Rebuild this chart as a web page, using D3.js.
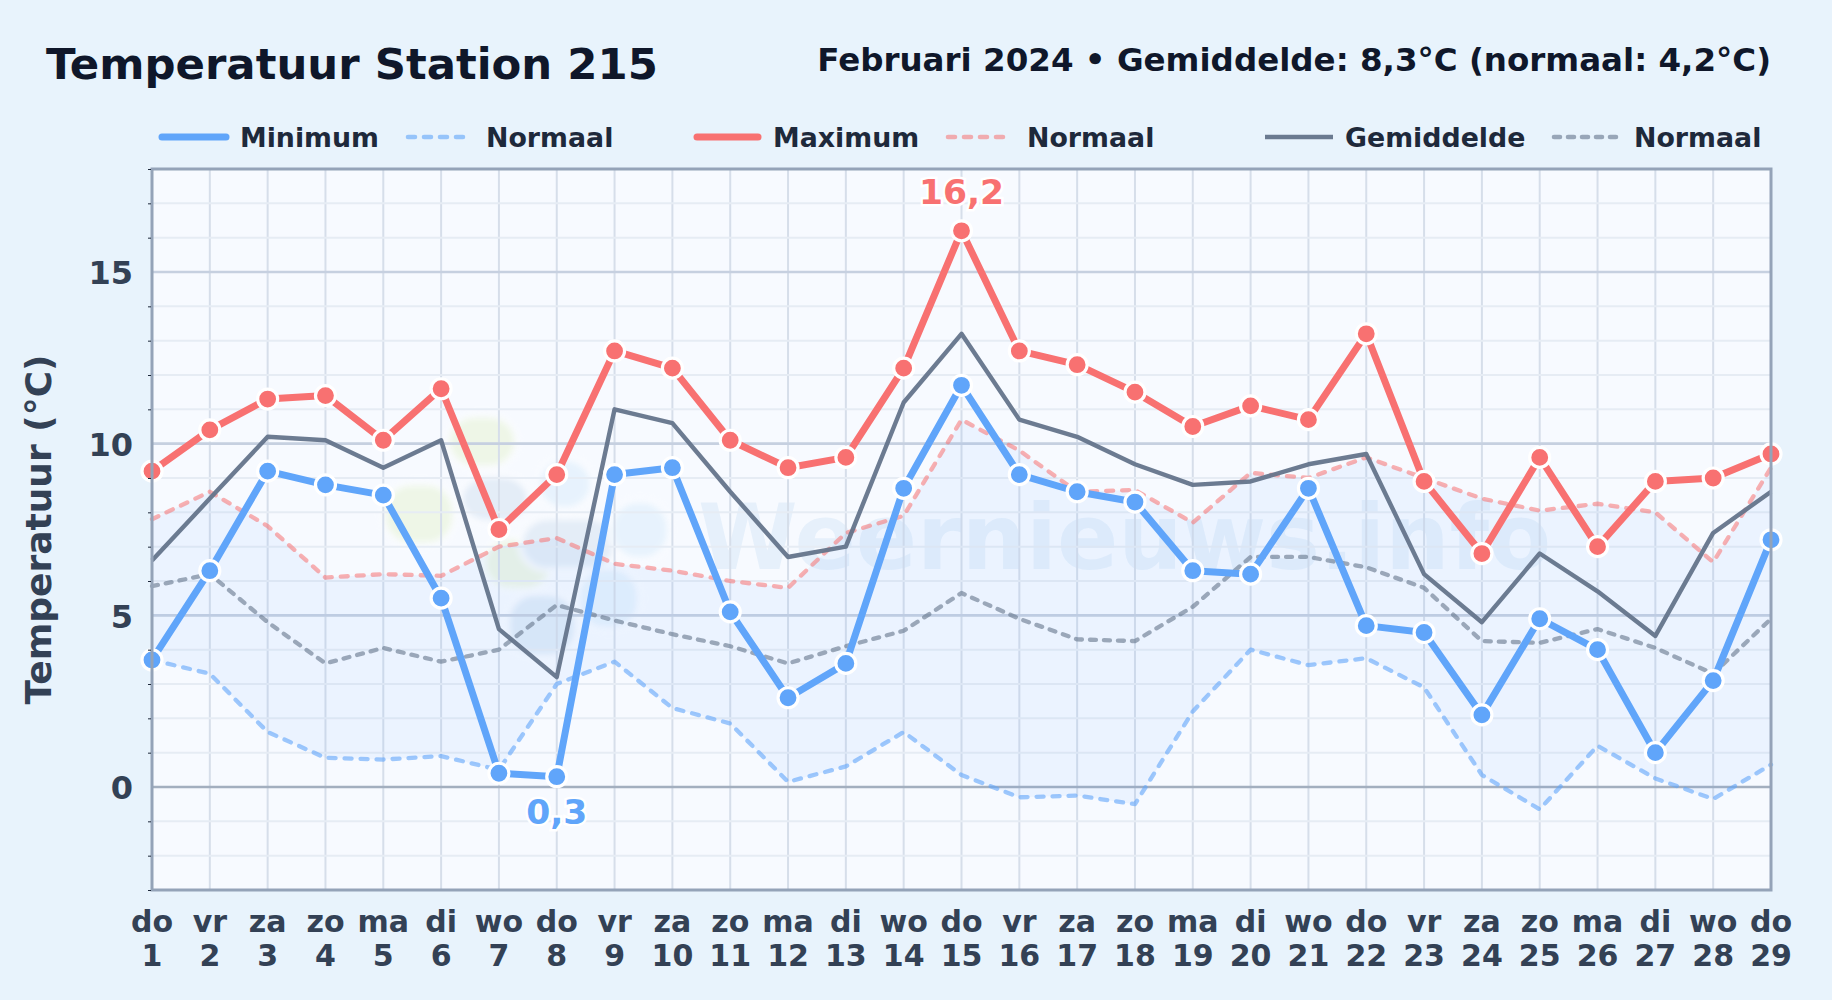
<!DOCTYPE html>
<html>
<head>
<meta charset="utf-8">
<script src="https://cdn.jsdelivr.net/npm/d3@7"></script>
<style>
html, body { margin: 0; padding: 0; background: #e8f3fc; }
svg { display: block; font-family: "DejaVu Sans", sans-serif; font-weight: bold; }
</style>
</head>
<body>
<div id="chart"></div>
<script>
//---------------------------DATA--------------------------------------------------------
const days = ["do","vr","za","zo","ma","di","wo","do","vr","za","zo","ma","di","wo","do","vr","za","zo","ma","di","wo","do","vr","za","zo","ma","di","wo","do"];
const dates = d3.range(1, 30);
const tempMin = [3.7,6.3,9.2,8.8,8.5,5.5,0.4,0.3,9.1,9.3,5.1,2.6,3.6,8.7,11.7,9.1,8.6,8.3,6.3,6.2,8.7,4.7,4.5,2.1,4.9,4.0,1.0,3.1,7.2];
const tempMax = [9.2,10.4,11.3,11.4,10.1,11.6,7.5,9.1,12.7,12.2,10.1,9.3,9.6,12.2,16.2,12.7,12.3,11.5,10.5,11.1,10.7,13.2,8.9,6.8,9.6,7.0,8.9,9.0,9.7];
const tempMean = [6.6,8.4,10.2,10.1,9.3,10.1,4.6,3.2,11.0,10.6,8.6,6.7,7.0,11.2,13.2,10.7,10.2,9.4,8.8,8.9,9.4,9.7,6.2,4.8,6.8,5.7,4.4,7.4,8.6];
const normalMin = [3.7,3.3,1.6,0.85,0.8,0.9,0.5,3.0,3.65,2.3,1.85,0.15,0.6,1.6,0.35,-0.3,-0.25,-0.5,2.2,4.0,3.55,3.75,2.9,0.35,-0.65,1.2,0.25,-0.35,0.65];
const normalMax = [7.8,8.6,7.6,6.1,6.2,6.15,7.0,7.25,6.5,6.3,6.0,5.8,7.4,7.9,10.7,9.8,8.6,8.65,7.7,9.15,9.0,9.6,9.0,8.4,8.05,8.25,8.0,6.55,9.3];
const normalMean = [5.85,6.2,4.8,3.6,4.05,3.65,4.0,5.3,4.85,4.45,4.1,3.6,4.1,4.55,5.65,4.9,4.3,4.25,5.25,6.7,6.7,6.4,5.8,4.25,4.2,4.6,4.05,3.3,4.9];
const majorTicks = [0, 5, 10, 15];
const minorTicks = d3.range(-3, 19);

const blue = "#60a5fa", red = "#f87171", slate = "#64748b";

//---------------------------LAYOUT-------------------------------------------------------
const W = 1832, H = 1000;
const plot = { left: 152, right: 1771, top: 169, bottom: 890 };

const svg = d3.select("#chart").append("svg").attr("width", W).attr("height", H);
svg.append("rect").attr("width", W).attr("height", H).attr("fill", "#e8f3fc");

const x = d3.scaleLinear().domain([1, 29]).range([plot.left, plot.right]);
const y = d3.scaleLinear().domain([-3, 18]).range([plot.bottom, plot.top]);

// plot background
svg.append("rect")
    .attr("x", plot.left).attr("y", plot.top)
    .attr("width", plot.right - plot.left).attr("height", plot.bottom - plot.top)
    .attr("fill", "#f7faff");

//---------------------------WATERMARK----------------------------------------------------
const defs = svg.append("defs");
defs.append("filter").attr("id", "soft").append("feGaussianBlur").attr("stdDeviation", 3);

// logo patches of the watermark: x, y, width, height, colour
const blobs = [
    [447, 415, 70, 53, "#e3f2c8"],
    [383, 483, 72, 62, "#e3f2c8"],
    [483, 537, 70, 53, "#e3f2c8"],
    [460, 475, 70, 48, "#cbdcee"],
    [520, 517, 97, 53, "#cbdcee"],
    [537, 458, 56, 52, "#d3e9fb"],
    [610, 500, 60, 60, "#d3e9fb"],
    [577, 567, 63, 63, "#d3e9fb"],
    [507, 593, 70, 64, "#c2d9f0"]
];
const wm = svg.append("g");
wm.append("g").attr("filter", "url(#soft)").attr("opacity", 0.42)
    .selectAll("rect").data(blobs).join("rect")
    .attr("x", d => d[0]).attr("y", d => d[1])
    .attr("width", d => d[2]).attr("height", d => d[3])
    .attr("rx", 28).attr("fill", d => d[4])
    .attr("stroke", "white").attr("stroke-width", 5);
wm.append("text").attr("x", 698).attr("y", 569)
    .attr("font-size", 90.4).attr("opacity", 0.28)
    .attr("fill", "#bcd8f2").text("Weernieuws.info");

//---------------------------GRID---------------------------------------------------------
svg.append("g").selectAll("line").data(dates).join("line")
    .attr("x1", d => x(d)).attr("x2", d => x(d))
    .attr("y1", plot.top).attr("y2", plot.bottom)
    .attr("stroke", "#d6deea").attr("stroke-width", 2);

svg.append("g").selectAll("line").data(minorTicks).join("line")
    .attr("x1", plot.left).attr("x2", plot.right)
    .attr("y1", d => y(d)).attr("y2", d => y(d))
    .attr("stroke", "#e6ecf4").attr("stroke-width", 2);

svg.append("g").selectAll("line").data(majorTicks).join("line")
    .attr("x1", plot.left).attr("x2", plot.right)
    .attr("y1", d => y(d)).attr("y2", d => y(d))
    .attr("stroke", d => d === 0 ? "#a3afbf" : "#c6d0e0").attr("stroke-width", 2.6);

//---------------------------SERIES-------------------------------------------------------
// band between normal min and normal max
svg.append("path")
    .datum(dates.map((d, i) => i))
    .attr("d", d3.area().x(i => x(dates[i])).y0(i => y(normalMin[i])).y1(i => y(normalMax[i])))
    .attr("fill", blue).attr("opacity", 0.08);

const line = d3.line().x((v, i) => x(dates[i])).y(v => y(v));

function drawLine(values, color, width, dash, opacity) {
    svg.append("path").datum(values)
        .attr("d", line)
        .attr("fill", "none")
        .attr("stroke", color)
        .attr("stroke-width", width)
        .attr("stroke-dasharray", dash)
        .attr("stroke-linecap", dash ? "round" : "butt")
        .attr("stroke-linejoin", "round")
        .attr("opacity", opacity);
}

drawLine(normalMin, blue, 4.3, "7 9", 0.6);
drawLine(normalMax, red, 4.3, "7 9", 0.55);
drawLine(normalMean, slate, 4.3, "6 8", 0.6);
drawLine(tempMean, slate, 4.4, null, 0.95);
drawLine(tempMin, blue, 7, null, 1);
drawLine(tempMax, red, 7, null, 1);

function drawDots(values, color) {
    svg.append("g").selectAll("circle").data(values).join("circle")
        .attr("cx", (v, i) => x(dates[i]))
        .attr("cy", v => y(v))
        .attr("r", 10)
        .attr("fill", color)
        .attr("stroke", "white")
        .attr("stroke-width", 3.2);
}
drawDots(tempMin, blue);
drawDots(tempMax, red);

//---------------------------FRAME AND AXES-----------------------------------------------
svg.append("rect")
    .attr("x", plot.left).attr("y", plot.top)
    .attr("width", plot.right - plot.left).attr("height", plot.bottom - plot.top)
    .attr("fill", "none").attr("stroke", "#94a3b8").attr("stroke-width", 3);

const minorAxis = svg.append("g").attr("transform", `translate(${plot.left - 1},0)`)
    .call(d3.axisLeft(y).tickValues(minorTicks.filter(d => !majorTicks.includes(d))).tickSize(3).tickFormat(""));
minorAxis.select(".domain").remove();
minorAxis.selectAll("line").attr("stroke", "#1e293b").attr("stroke-width", 1);

const yAxis = svg.append("g").attr("transform", `translate(${plot.left},1.5)`)
    .call(d3.axisLeft(y).tickValues(majorTicks).tickSize(0).tickPadding(19));
yAxis.select(".domain").remove();
yAxis.selectAll("text")
    .attr("font-family", "DejaVu Sans").attr("font-weight", "bold")
    .attr("font-size", 32).attr("fill", "#334155");

const xLabels = svg.append("g").selectAll("text").data(dates).join("text")
    .attr("text-anchor", "middle").attr("fill", "#334155").attr("font-size", 30);
xLabels.append("tspan").attr("x", d => x(d)).attr("y", 932).text((d, i) => days[i]);
xLabels.append("tspan").attr("x", d => x(d)).attr("y", 966).text(d => d);

svg.append("text")
    .attr("transform", `translate(51,${(plot.top + plot.bottom) / 2}) rotate(-90)`)
    .attr("text-anchor", "middle").attr("fill", "#334155").attr("font-size", 36)
    .text("Temperatuur (°C)");

//---------------------------TITLES-------------------------------------------------------
svg.append("text").attr("x", 46).attr("y", 79)
    .attr("font-size", 43.4).attr("fill", "#0f172a").text("Temperatuur Station 215");
svg.append("text").attr("x", 1771).attr("y", 71).attr("text-anchor", "end")
    .attr("font-size", 32.5).attr("fill", "#0f172a")
    .text("Februari 2024 • Gemiddelde: 8,3°C (normaal: 4,2°C)");

//---------------------------LEGEND-------------------------------------------------------
const legendY = 137;
const legendItems = [
    { label: "Minimum", x1: 162, x2: 226, tx: 240, color: blue, width: 7, dash: null, op: 1 },
    { label: "Normaal", x1: 408, x2: 464, tx: 486, color: blue, width: 4.6, dash: "7 9", op: 0.6 },
    { label: "Maximum", x1: 697, x2: 758, tx: 773, color: red, width: 7, dash: null, op: 1 },
    { label: "Normaal", x1: 948, x2: 1007, tx: 1027, color: red, width: 4.6, dash: "7 9", op: 0.55 },
    { label: "Gemiddelde", x1: 1265, x2: 1333, tx: 1345, color: slate, width: 4.4, dash: null, op: 0.95 },
    { label: "Normaal", x1: 1554, x2: 1618, tx: 1634, color: slate, width: 4.6, dash: "6 8", op: 0.6 }
];
const legend = svg.append("g").selectAll("g").data(legendItems).join("g");
legend.append("line")
    .attr("x1", d => d.x1).attr("x2", d => d.x2)
    .attr("y1", legendY).attr("y2", legendY)
    .attr("stroke", d => d.color).attr("stroke-width", d => d.width)
    .attr("stroke-dasharray", d => d.dash).attr("stroke-linecap", d => d.label === "Gemiddelde" ? "butt" : "round")
    .attr("opacity", d => d.op);
legend.append("text")
    .attr("x", d => d.tx).attr("y", legendY + 9.5)
    .attr("font-size", 26.8).attr("fill", "#1e293b").text(d => d.label);

//---------------------------ANNOTATIONS--------------------------------------------------
function annotate(i, values, color, dy) {
    svg.append("text")
        .attr("x", x(dates[i])).attr("y", y(values[i]) + dy)
        .attr("text-anchor", "middle").attr("font-size", 34.5).attr("fill", color)
        .attr("stroke", "white").attr("stroke-width", 5).attr("paint-order", "stroke")
        .text(String(values[i]).replace(".", ","));
}
annotate(14, tempMax, red, -27);
annotate(7, tempMin, blue, 47);
</script>
</body>
</html>
